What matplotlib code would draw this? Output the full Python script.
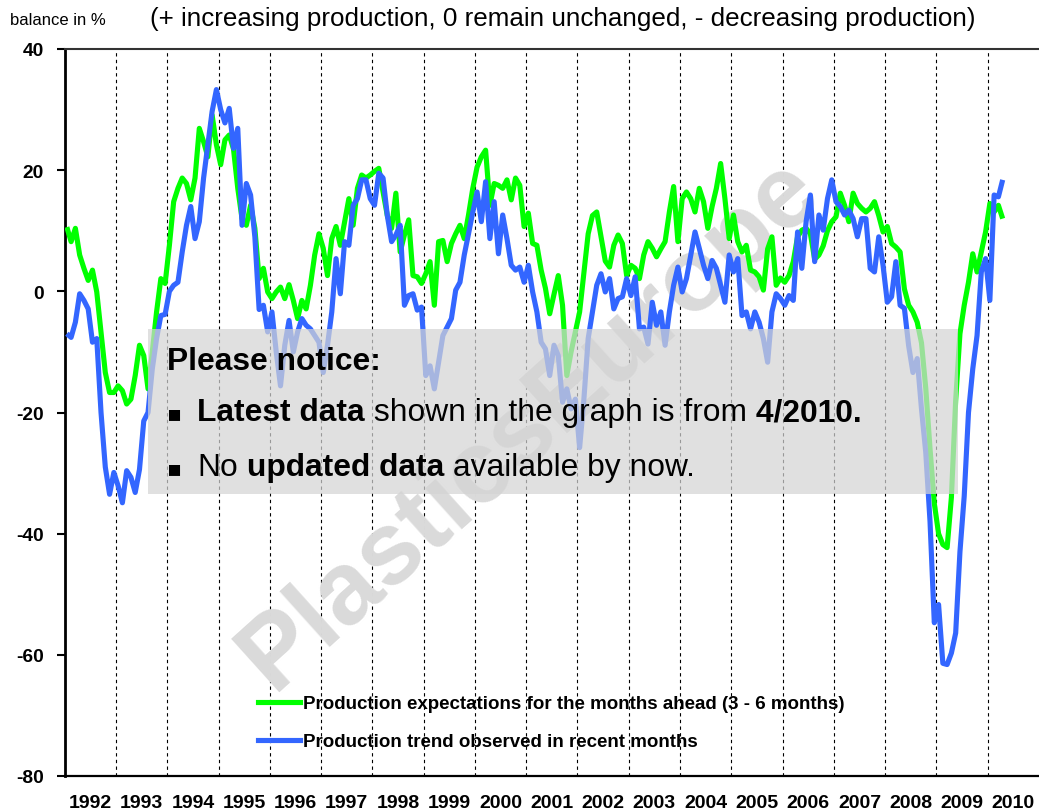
import matplotlib
matplotlib.use("Agg")
import matplotlib.pyplot as plt
import numpy as np
from matplotlib import font_manager
from matplotlib.patches import Rectangle
from matplotlib.lines import Line2D

# ---------------- data (monthly balances in %, Jan 1992 .. Apr 2010) ----------------
start_year = 1992
expectations = [
    10.6, 8.2, 10.4, 6.0, 3.8, 1.8, 3.5, -0.1, -6.7, -13.4, -16.7, -16.7,
    -15.6, -16.4, -18.6, -17.8, -13.9, -8.9, -10.6, -16.1, -10.0, -3.4, 2.1, 1.3,
    7.6, 14.8, 17.0, 18.7, 17.8, 15.1, 18.7, 26.9, 24.7, 22.2, 29.1, 24.2,
    20.9, 25.0, 25.8, 23.5, 17.0, 12.0, 10.9, 14.2, 10.4, 2.1, 3.8, -0.1,
    -1.2, -0.1, 0.7, -1.2, 1.1, -1.5, -4.5, -1.5, -2.9, 1.0, 6.0, 9.5,
    7.1, 2.6, 8.7, 10.7, 7.6, 11.5, 15.3, 10.9, 17.0, 19.2, 18.7, 19.2,
    19.8, 20.3, 16.4, 12.5, 10.4, 16.2, 6.5, 9.3, 11.8, 2.6, 2.4, 1.3,
    2.9, 4.9, -2.3, 8.2, 8.4, 4.9, 7.9, 9.5, 10.9, 8.7, 12.6, 17.0,
    20.5, 22.2, 23.3, 14.2, 17.8, 17.5, 17.0, 18.4, 15.1, 18.7, 17.5, 10.7,
    12.9, 7.9, 7.6, 3.5, 0.5, -3.7, -0.5, 2.6, -2.3, -13.9, -10.0, -6.7,
    -3.4, 3.0, 9.5, 12.5, 13.1, 9.0, 5.0, 4.0, 7.6, 9.3, 7.9, 2.6,
    4.3, 3.8, 2.1, 6.0, 8.2, 7.1, 5.7, 7.0, 8.2, 13.1, 17.3, 8.2,
    15.3, 16.4, 15.3, 13.1, 17.0, 14.8, 10.4, 14.0, 17.0, 21.1, 15.3, 8.7,
    12.6, 8.2, 6.5, 7.6, 3.5, 3.2, 2.4, 0.2, 7.0, 9.0, 1.0, 2.2,
    1.5, 2.6, 4.9, 9.0, 10.1, 10.4, 9.5, 5.3, 6.0, 7.5, 10.0, 11.5,
    12.3, 16.2, 14.2, 11.5, 16.2, 14.5, 13.7, 13.1, 13.7, 14.8, 12.5, 9.8,
    10.7, 7.9, 7.3, 6.5, 0.4, -2.3, -3.4, -5.1, -8.5, -16.0, -26.0, -35.0,
    -40.0, -41.8, -42.3, -34.0, -18.0, -7.0, -2.3, 1.5, 6.2, 3.2, 6.5, 9.8,
    14.5, 13.1, 14.2, 12.0,
]
trend = [
    -7.0, -7.6, -5.1, -0.4, -1.5, -2.9, -8.4, -7.8, -20.0, -29.0, -33.5, -29.9,
    -32.1, -34.9, -29.6, -30.7, -33.2, -29.4, -21.4, -20.0, -12.8, -7.8, -4.0, -3.8,
    0.0, 1.0, 1.5, 6.5, 10.9, 14.0, 8.7, 11.5, 18.7, 24.2, 29.7, 33.3,
    30.0, 27.8, 30.2, 23.6, 26.9, 10.9, 17.8, 15.9, 9.0, -3.0, -2.3, -6.7,
    -3.4, -10.0, -15.6, -8.9, -4.8, -10.0, -6.7, -4.5, -5.6, -6.2, -7.3, -8.4,
    -13.4, -8.9, -3.4, 5.4, -0.4, 8.2, 7.6, 14.2, 15.3, 18.4, 18.4, 15.3,
    14.2, 19.5, 18.7, 12.5, 8.2, 9.3, 10.9, -2.3, -0.7, -0.4, -3.1, -2.6,
    -13.9, -12.3, -16.1, -11.7, -7.3, -5.9, -4.5, 0.2, 1.5, 6.0, 9.5, 13.1,
    16.4, 11.5, 18.1, 8.7, 14.8, 6.2, 12.6, 8.7, 4.3, 3.5, 4.0, 1.5,
    4.3, -0.1, -3.4, -8.4, -9.5, -13.9, -8.9, -10.6, -18.3, -16.1, -19.4, -17.8,
    -25.8, -17.8, -7.8, -3.4, 1.0, 2.9, -0.1, 2.1, -2.9, -1.2, -0.9, 2.1,
    -0.7, 2.4, -6.2, -5.9, -8.7, -1.8, -5.6, -3.4, -8.9, -3.4, 1.0, 4.0,
    -0.1, 2.1, 6.0, 9.8, 7.1, 4.3, 2.1, 5.1, 3.8, 1.0, -1.8, 6.0,
    3.2, 5.4, -4.0, -3.4, -6.2, -3.4, -5.1, -7.8, -11.7, -3.4, -0.4, -1.2,
    -2.3, -0.7, -1.5, 9.8, 3.8, 11.5, 15.9, 4.9, 12.6, 10.1, 15.3, 18.4,
    14.8, 14.0, 12.6, 13.4, 12.0, 9.0, 12.0, 12.0, 3.8, 3.2, 9.0, 4.3,
    -1.8, -0.9, 4.9, -2.3, -2.8, -9.0, -13.4, -11.1, -19.4, -26.6, -38.0, -54.7,
    -51.7, -61.4, -61.6, -59.7, -56.4, -43.0, -33.8, -20.0, -12.8, -7.3, 3.2, 5.4,
    -1.5, 15.9, 15.6, 18.4,
]
year_labels = [str(y) for y in range(1992, 2011)]
y_ticks = [40, 20, 0, -20, -40, -60, -80]
series_names = ["Production expectations for the months ahead (3 - 6 months)",
                "Production trend observed in recent months"]
header_unit = "balance in %"
header_text = "(+ increasing production, 0 remain unchanged, - decreasing production)"
watermark = "PlasticsEurope"

# ---------------- fonts ----------------
names = {f.name for f in font_manager.fontManager.ttflist}
HAS_NARROW = "Liberation Sans Narrow" in names
NARROW = ["Liberation Sans Narrow", "Liberation Sans", "DejaVu Sans"] if HAS_NARROW else ["Liberation Sans", "DejaVu Sans"]
REG = ["Liberation Sans", "DejaVu Sans"]
plt.rcParams["font.family"] = REG

W, H = 1039, 812
fig = plt.figure(figsize=(W / 100, H / 100), dpi=100)
fig.patch.set_facecolor("white")

def fx(px):
    return px / W

def fy(py):
    return 1 - py / H

ax_left, ax_right, ax_top, ax_bot = 64.7, 1039, 50, 777
ax = fig.add_axes([fx(ax_left), fy(ax_bot), fx(ax_right - ax_left), (ax_bot - ax_top) / H])
ax.set_xlim(1992, 2011)
ax.set_ylim(-80, 40)

n = len(expectations)
x = start_year + (np.arange(n) + 0.5) / 12.0
green, blue = "#00ff00", "#3366ff"
ax.plot(x, expectations, color=green, lw=3.7, zorder=3, solid_joinstyle="round", solid_capstyle="butt")
ax.plot(x, trend, color=blue, lw=3.7, zorder=3.1, solid_joinstyle="round", solid_capstyle="butt")

# axes styling
ax.spines["right"].set_visible(False)
ax.spines["left"].set_linewidth(2.0)
ax.spines["left"].set_color("black")
ax.spines["bottom"].set_linewidth(1.6)
ax.spines["bottom"].set_color("black")
ax.spines["top"].set_linewidth(1.5)
ax.spines["top"].set_color("#333333")

ax.set_yticks(y_ticks)
ax.set_yticklabels([str(v) for v in y_ticks])
ax.tick_params(axis="y", direction="out", length=6, width=1.5, pad=9, labelsize=15 if HAS_NARROW else 13.8)
for lab in ax.get_yticklabels():
    lab.set_family(NARROW)
    lab.set_fontweight("bold")

years = np.arange(1993, 2011)
ax.set_xticks(years)
ax.set_xticklabels([])
ax.set_xticks(np.arange(1992, 2011) + 0.5, minor=True)
ax.set_xticklabels(year_labels, minor=True)
ax.tick_params(axis="x", which="both", length=0, pad=13, labelsize=16 if HAS_NARROW else 14)
for lab in ax.get_xticklabels(minor=True):
    lab.set_family(NARROW)
    lab.set_fontweight("bold")
ax.xaxis.grid(True, which="major", color="black", linestyle=(0, (3, 3)), linewidth=0.8, zorder=1)
ax.set_axisbelow(True)

# watermark
wm = ax.text(fx(530), fy(425), watermark, transform=fig.transFigure, fontsize=74, fontweight="bold",
             color="#dadada", rotation=42, ha="center", va="center", rotation_mode="anchor",
             family=REG, zorder=1.5)

# notice box
box = Rectangle((fx(148), fy(495)), fx(958) - fx(148), fy(330) - fy(495), transform=fig.transFigure,
                facecolor="#d4d4d4", edgecolor="none", alpha=0.72, zorder=5)
ax.add_patch(box)
box.set_clip_on(False)

renderer = fig.canvas.get_renderer()

def rich_line(x_px, y_px, parts, size):
    cur = x_px
    for s, w in parts:
        t = fig.text(fx(cur), fy(y_px), s, fontsize=size, fontweight=w, family=REG,
                     ha="left", va="baseline", zorder=6)
        bb = t.get_window_extent(renderer)
        cur = bb.x1

BOX_FS = 22.9
rich_line(167, 370, [("Please notice:", "bold")], BOX_FS)
fig.text(fx(167), fy(420), "\u25aa", fontsize=16, family=["DejaVu Sans"], ha="left", va="baseline", zorder=6)
rich_line(197, 421.5, [("Latest data", "bold"), (" shown in the graph is from", "normal"), (" 4/2010.", "bold")], BOX_FS)
fig.text(fx(167), fy(475), "\u25aa", fontsize=16, family=["DejaVu Sans"], ha="left", va="baseline", zorder=6)
rich_line(197, 476.5, [("No", "normal"), (" updated data", "bold"), (" available by now.", "normal")], BOX_FS)

# header
fig.text(fx(10), fy(25), header_unit, fontsize=11 if HAS_NARROW else 12, family=NARROW, ha="left", va="baseline")
fig.text(fx(150), fy(26), header_text, fontsize=21 if HAS_NARROW else 18.7, family=NARROW, ha="left", va="baseline")

# legend
handles = [Line2D([0], [0], color=green, lw=3.7), Line2D([0], [0], color=blue, lw=3.7)]
leg = ax.legend(handles, series_names, loc="upper left", bbox_to_anchor=(fx(258), fy(696)),
                bbox_transform=fig.transFigure, frameon=False, borderpad=0, borderaxespad=0,
                handlelength=2.24, handletextpad=0.16, labelspacing=1.12,
                prop={"family": REG, "weight": "bold", "size": 13.5})
leg.set_zorder(7)

fig.savefig("out.png", dpi=100, facecolor="white")
